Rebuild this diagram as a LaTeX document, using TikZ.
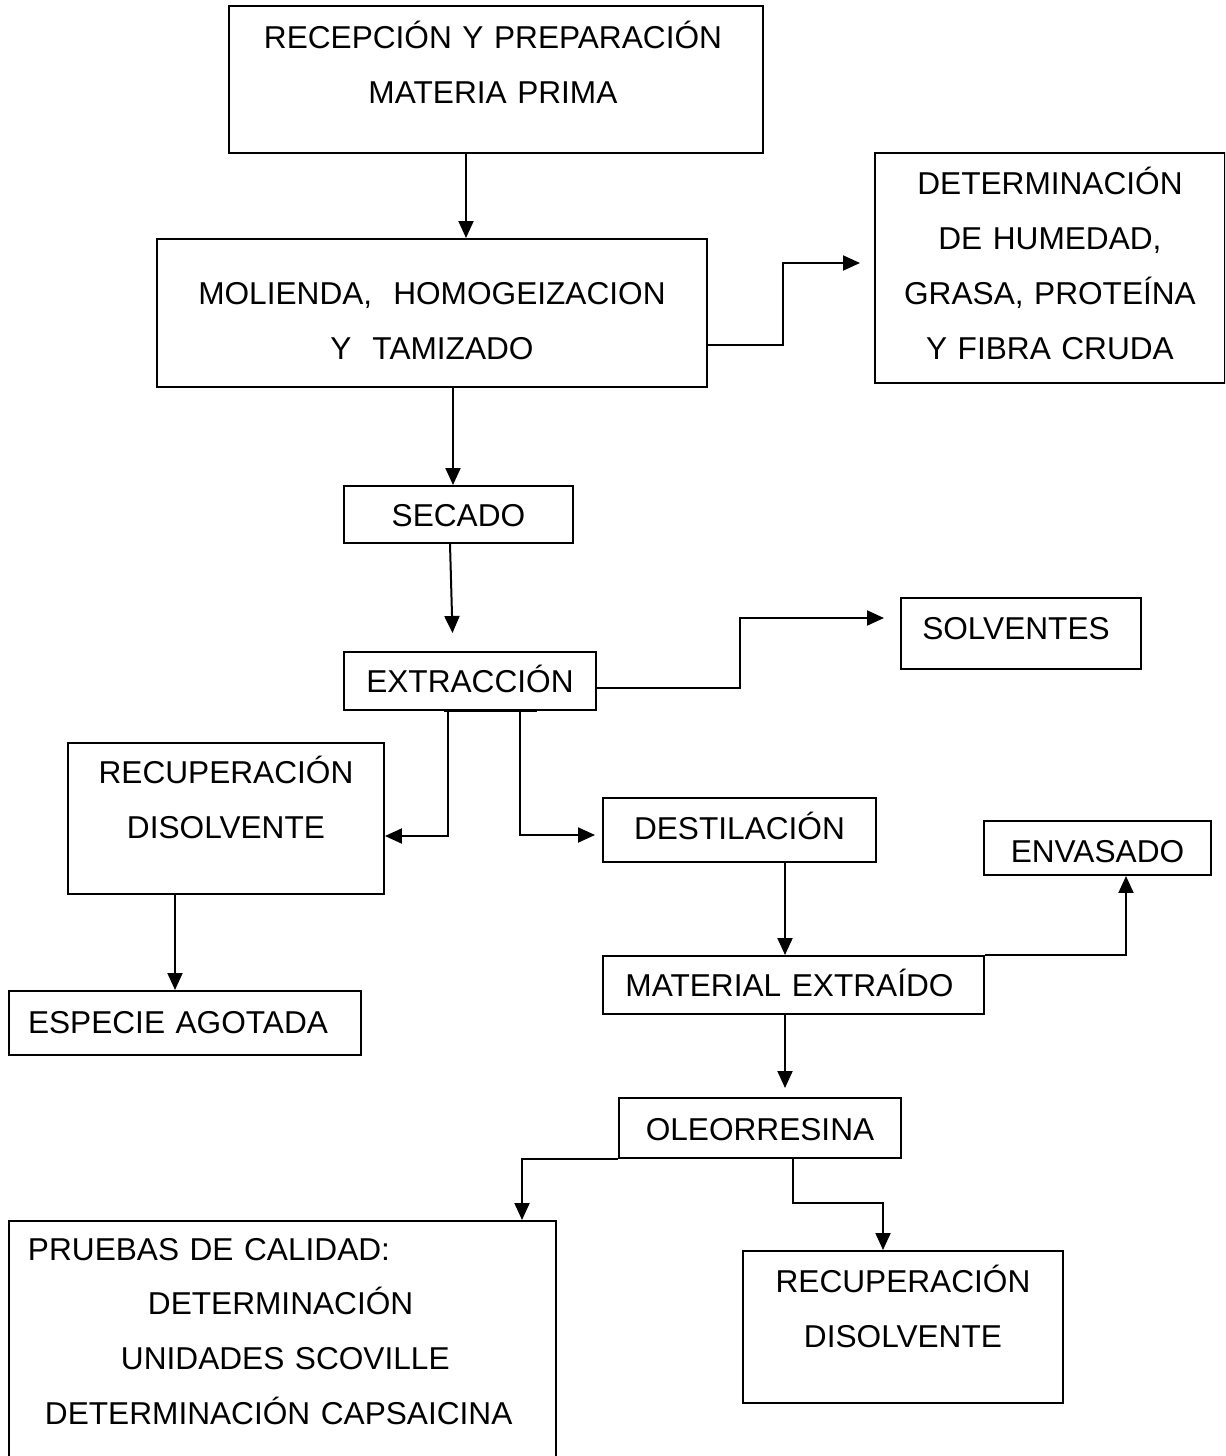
\documentclass[tikz,border=0pt]{standalone}
\usepackage{fontspec}
\setmainfont{Liberation Sans}
\usepackage{tikz}
\usetikzlibrary{arrows.meta}
\tikzset{caja/.style={draw, rectangle, inner sep=0pt, anchor=north west, align=center,
    line width=0.04cm, font=\fontsize{18}{31.3}\selectfont}}

\begin{document}
\begin{tikzpicture}[x=0.02cm, y=-0.02cm, line width=0.04cm, >={Triangle[length=0.34cm,width=0.3cm]}]
			\clip (0,0) rectangle (1225,1456);
			\node[caja, text width=10.68cm, text height=0.86cm, text depth=2.08cm] (rec) at (228,5) {RECEPCIÓN Y PREPARACIÓN\rule{0.12cm}{0pt}\\MATERIA PRIMA\rule{0.12cm}{0pt}};
			\node[caja, text width=11cm, text height=1.32cm, text depth=1.64cm] (mol) at (156,238) {MOLIENDA,\ \ HOMOGEIZACION\\Y\ \ TAMIZADO};
			\node[caja, text width=7cm, text height=0.84cm, text depth=3.76cm] (det) at (874,152) {DETERMINACIÓN\\DE HUMEDAD,\\GRASA, PROTEÍNA\\Y FIBRA CRUDA};
			\node[caja, text width=4.58cm, text height=0.82cm, text depth=0.32cm] (sec) at (343,485) {SECADO};
			\node[caja, text width=5.04cm, text height=0.82cm, text depth=0.34cm] (ext) at (343,651) {EXTRACCIÓN};
			\node[caja, text width=4.8cm, text height=0.84cm, text depth=0.58cm] (sol) at (900,597) {SOLVENTES\rule{0.2cm}{0pt}};
			\node[caja, text width=6.32cm, text height=0.82cm, text depth=2.2cm] (rd1) at (67,742) {RECUPERACIÓN\\DISOLVENTE};
			\node[caja, text width=5.46cm, text height=0.84cm, text depth=0.44cm] (des) at (602,797) {DESTILACIÓN};
			\node[caja, text width=4.54cm, text height=0.84cm, text depth=0.24cm] (env) at (983,820) {ENVASADO};
			\node[caja, text width=7.62cm, text height=0.8cm, text depth=0.36cm] (mat) at (602,955) {MATERIAL EXTRAÍDO\rule{0.16cm}{0pt}};
			\node[caja, text width=7.04cm, text height=0.84cm, text depth=0.44cm] (esp) at (8,990) {ESPECIE AGOTADA\rule{0.28cm}{0pt}};
			\node[caja, text width=5.64cm, text height=0.84cm, text depth=0.36cm] (ole) at (618,1097) {OLEORRESINA};
			\node[caja, align=left, text width=10.94cm, text height=0.78cm, text depth=4.22cm] (pru) at (8,1220)
			  {\rule{0.38cm}{0pt}PRUEBAS DE CALIDAD:\\\rule{2.78cm}{0pt}DETERMINACIÓN\\\rule{2.24cm}{0pt}UNIDADES SCOVILLE\\\rule{0.72cm}{0pt}DETERMINACIÓN CAPSAICINA};
			\node[caja, text width=6.4cm, text height=0.82cm, text depth=2.22cm] (rd2) at (742,1250) {RECUPERACIÓN\\DISOLVENTE};
			% flechas
			\draw[->] (rec.south -| 466,0) -- (mol.north -| 466,0);
			\draw[->, shorten >=0.28cm] (mol.east |- 0,345) -- (783,345) |- (det.west |- 0,263);
			\draw[->] (mol.south -| 453,0) -- (sec.north -| 453,0);
			\draw[->, shorten >=0.36cm] (sec.south -| 450,0) -- (ext.north -| 453,0);
			\draw[->, shorten >=0.32cm] (ext.east |- 0,688) -- (740,688) |- (sol.west |- 0,618);
			\draw (ext.south -| 444,0) -- (ext.south -| 537,0);
			\draw[->] (ext.south -| 448,0) |- (rd1.east |- 0,836);
			\draw[->, shorten >=0.14cm] (ext.south -| 520,0) |- (des.west |- 0,835);
			\draw[->] (rd1.south -| 175,0) -- (esp.north -| 175,0);
			\draw[->] (des.south -| 785,0) -- (mat.north -| 785,0);
			\draw[->] (mat.north east) -| (env.south -| 1126,0);
			\draw[->, shorten >=0.18cm] (mat.south -| 785,0) -- (ole.north -| 785,0);
			\draw[->] (ole.south west) -| (pru.north -| 522,0);
			\draw[->] (ole.south -| 793,0) -- (793,1203) -| (rd2.north -| 883,0);
\end{tikzpicture}
\end{document}
